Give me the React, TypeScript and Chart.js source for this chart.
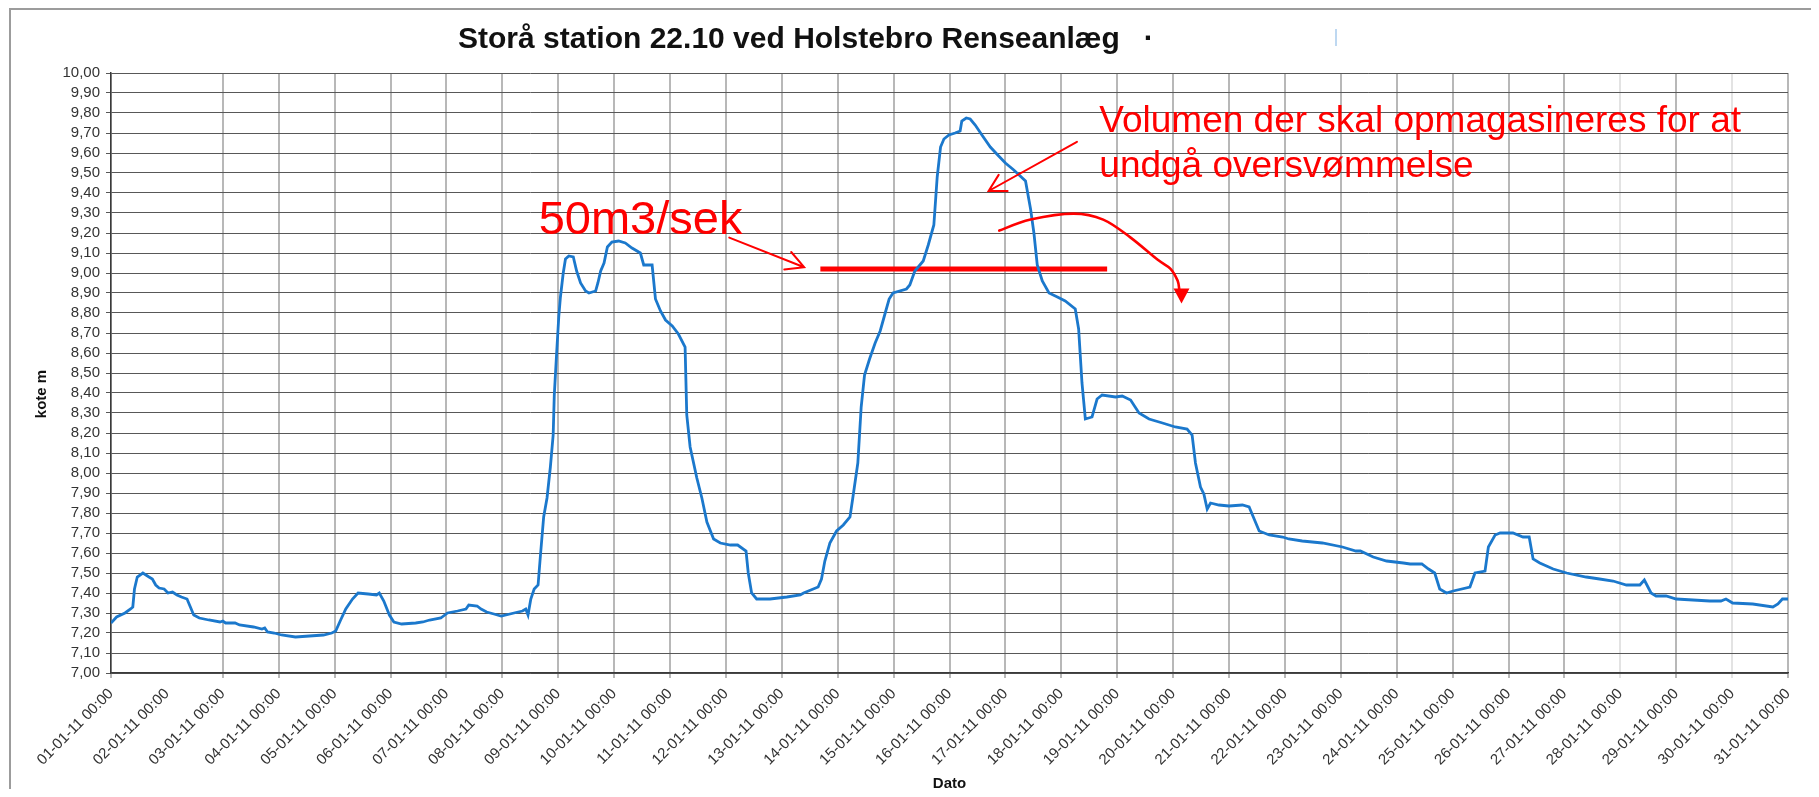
import React, { useEffect, useRef } from 'react';
import { Chart, registerables } from 'chart.js';

Chart.register(...registerables);

// ---------- data ----------
const dateLabels = [
  '01-01-11 00:00', '02-01-11 00:00', '03-01-11 00:00', '04-01-11 00:00', '05-01-11 00:00',
  '06-01-11 00:00', '07-01-11 00:00', '08-01-11 00:00', '09-01-11 00:00', '10-01-11 00:00',
  '11-01-11 00:00', '12-01-11 00:00', '13-01-11 00:00', '14-01-11 00:00', '15-01-11 00:00',
  '16-01-11 00:00', '17-01-11 00:00', '18-01-11 00:00', '19-01-11 00:00', '20-01-11 00:00',
  '21-01-11 00:00', '22-01-11 00:00', '23-01-11 00:00', '24-01-11 00:00', '25-01-11 00:00',
  '26-01-11 00:00', '27-01-11 00:00', '28-01-11 00:00', '29-01-11 00:00', '30-01-11 00:00',
  '31-01-11 00:00',
];

// time in days after 01-01-11 00:00
const obsDay = [
  0.00, 0.10, 0.25, 0.35, 0.39, 0.42, 0.47, 0.57, 0.68, 0.74, 0.80, 0.86, 0.95, 1.02, 1.10, 1.18,
  1.26, 1.36, 1.42, 1.48, 1.58, 1.75, 1.95, 2.00, 2.05, 2.22, 2.30, 2.55, 2.70, 2.75, 2.80, 2.92,
  3.05, 3.30, 3.55, 3.80, 3.95, 4.02, 4.10, 4.20, 4.32, 4.42, 4.60, 4.75, 4.80, 4.88, 4.98, 5.06,
  5.20, 5.45, 5.58, 5.70, 5.90, 6.02, 6.20, 6.35, 6.40, 6.55, 6.62, 6.72, 6.85, 6.98, 7.21, 7.36,
  7.42, 7.46, 7.51, 7.57, 7.64, 7.68, 7.74, 7.80, 7.86, 7.91, 7.93, 7.97, 8.01, 8.04, 8.09, 8.13,
  8.19, 8.27, 8.33, 8.40, 8.49, 8.55, 8.67, 8.71, 8.76, 8.82, 8.88, 8.96, 9.08, 9.20, 9.32, 9.47,
  9.53, 9.68, 9.74, 9.83, 9.92, 10.04, 10.15, 10.27, 10.30, 10.36, 10.48, 10.57, 10.66, 10.78,
  10.90, 11.08, 11.21, 11.36, 11.40, 11.46, 11.55, 11.79, 12.09, 12.33, 12.39, 12.65, 12.71,
  12.77, 12.86, 12.98, 13.10, 13.22, 13.27, 13.36, 13.42, 13.48, 13.57, 13.67, 13.76, 13.85,
  13.92, 13.99, 14.23, 14.29, 14.38, 14.53, 14.62, 14.72, 14.78, 14.84, 14.90, 14.99, 15.10,
  15.19, 15.22, 15.30, 15.37, 15.46, 15.58, 15.73, 15.88, 16.00, 16.15, 16.36, 16.45, 16.51,
  16.57, 16.66, 16.78, 16.93, 17.07, 17.25, 17.31, 17.37, 17.43, 17.55, 17.64, 17.73, 17.97,
  18.09, 18.24, 18.39, 18.57, 18.81, 19.04, 19.25, 19.34, 19.40, 19.49, 19.55, 19.61, 19.67,
  19.82, 20.00, 20.24, 20.36, 20.45, 20.54, 20.72, 20.96, 21.07, 21.31, 21.67, 22.03, 22.27,
  22.35, 22.58, 22.82, 23.12, 23.24, 23.45, 23.57, 23.68, 23.77, 23.89, 24.01, 24.31, 24.40,
  24.58, 24.64, 24.76, 24.85, 25.08, 25.26, 25.37, 25.44, 25.56, 25.80, 26.04, 26.39, 26.63,
  26.87, 27.11, 27.35, 27.43, 27.55, 27.64, 27.82, 28.00, 28.30, 28.60, 28.80, 28.89, 29.01,
  29.37, 29.73, 29.82, 29.90, 30.00,
];

// water level, kote m
const obsLevel = [
  7.25, 7.28, 7.30, 7.32, 7.33, 7.42, 7.48, 7.50, 7.48, 7.47, 7.44, 7.425, 7.42, 7.40, 7.405, 7.39,
  7.38, 7.37, 7.33, 7.29, 7.275, 7.265, 7.255, 7.26, 7.25, 7.25, 7.24, 7.23, 7.22, 7.225, 7.205, 7.20,
  7.19, 7.18, 7.185, 7.19, 7.20, 7.21, 7.26, 7.32, 7.37, 7.40, 7.395, 7.39, 7.40, 7.36, 7.29, 7.255,
  7.245, 7.25, 7.255, 7.265, 7.275, 7.30, 7.31, 7.32, 7.34, 7.335, 7.32, 7.305, 7.295, 7.285, 7.30, 7.31,
  7.32, 7.29, 7.37, 7.42, 7.44, 7.58, 7.78, 7.875, 8.03, 8.19, 8.39, 8.59, 8.78, 8.88, 9.00, 9.07,
  9.085, 9.08, 9.01, 8.95, 8.91, 8.90, 8.91, 8.95, 9.01, 9.05, 9.13, 9.155, 9.16, 9.15, 9.125, 9.10,
  9.04, 9.04, 8.87, 8.81, 8.765, 8.735, 8.695, 8.63, 8.29, 8.13, 7.975, 7.875, 7.755, 7.67,
  7.65, 7.64, 7.64, 7.61, 7.50, 7.40, 7.37, 7.37, 7.38, 7.39, 7.40, 7.43, 7.47,
  7.56, 7.65, 7.71, 7.74, 7.78, 7.875, 8.05, 8.33, 8.49, 8.57, 8.65, 8.71, 8.80,
  8.87, 8.90, 8.92, 8.94, 9.01, 9.06, 9.14, 9.24, 9.48, 9.63, 9.67, 9.69, 9.70,
  9.71, 9.76, 9.775, 9.77, 9.74, 9.69, 9.63, 9.585, 9.55, 9.515, 9.46, 9.32, 9.20,
  9.04, 8.96, 8.90, 8.88, 8.86, 8.82, 8.72, 8.45, 8.27, 8.28, 8.37, 8.39, 8.38,
  8.385, 8.365, 8.30, 8.27, 8.25, 8.23, 8.22, 8.19, 8.05, 7.93, 7.895, 7.82, 7.85,
  7.84, 7.835, 7.84, 7.83, 7.77, 7.71, 7.69, 7.68, 7.67, 7.66, 7.65, 7.63, 7.61,
  7.61, 7.58, 7.56, 7.55, 7.545, 7.545, 7.52, 7.50, 7.42, 7.40, 7.41, 7.43, 7.50,
  7.51, 7.63, 7.69, 7.70, 7.70, 7.68, 7.68, 7.57, 7.55, 7.52, 7.50, 7.48, 7.47,
  7.46, 7.44, 7.44, 7.465, 7.40, 7.385, 7.385, 7.37, 7.365, 7.36, 7.36, 7.37, 7.35,
  7.345, 7.33, 7.345, 7.37, 7.37,
];

// 50 m3/s threshold line
const thresholdDay = [12.69, 17.82];
const thresholdLevel = [9.02, 9.02];

const yMin = 7.0;
const yMax = 10.0;
const yStep = 0.1;

// ---------- texts ----------
const titleText = 'Storå station 22.10 ved Holstebro Renseanlæg';
const yAxisTitle = 'kote m';
const xAxisTitle = 'Dato';
const flowText = '50m3/sek';
const volumeText = ['Volumen der skal opmagasineres for at', 'undgå oversvømmelse'];

// annotation anchors in data units [day, level]
const flowTextAt = [7.65, 9.197];
const flowArrow = [[11.06, 9.177], [12.40, 9.029]];
const volumeTextAt = [17.68, 9.706];
const volumeLine2Level = 9.482;
const volumeArrow = [[17.28, 9.656], [15.70, 9.41]];
const curvedArrow = [
  [15.89, 9.212], [16.45, 9.267], [17.22, 9.297], [17.75, 9.267], [18.24, 9.177],
  [18.72, 9.067], [18.95, 9.022], [19.08, 8.962], [19.11, 8.917],
];
const curvedArrowTip = [19.15, 8.847];

const FONT = '"Liberation Sans", Arial, Helvetica, sans-serif';
const RED = '#ff0000';

function smoothPath(ctx: CanvasRenderingContext2D, pts: { x: number; y: number }[]) {
  ctx.moveTo(pts[0].x, pts[0].y);
  for (let i = 0; i < pts.length - 1; i++) {
    const p0 = pts[i - 1] || pts[i];
    const p1 = pts[i];
    const p2 = pts[i + 1];
    const p3 = pts[i + 2] || p2;
    ctx.bezierCurveTo(
      p1.x + (p2.x - p0.x) / 6, p1.y + (p2.y - p0.y) / 6,
      p2.x - (p3.x - p1.x) / 6, p2.y - (p3.y - p1.y) / 6,
      p2.x, p2.y
    );
  }
}

function openArrow(ctx: CanvasRenderingContext2D, from: { x: number; y: number }, tip: { x: number; y: number }, len: number, deg: number) {
  ctx.beginPath();
  ctx.moveTo(from.x, from.y);
  ctx.lineTo(tip.x, tip.y);
  const a = Math.atan2(from.y - tip.y, from.x - tip.x);
  const r = (deg * Math.PI) / 180;
  ctx.moveTo(tip.x + len * Math.cos(a + r), tip.y + len * Math.sin(a + r));
  ctx.lineTo(tip.x, tip.y);
  ctx.lineTo(tip.x + len * Math.cos(a - r), tip.y + len * Math.sin(a - r));
  ctx.stroke();
}

const decorPlugin = {
  id: 'decor',
  beforeDraw(chart: any) {
    const { ctx, width, height, chartArea } = chart;
    ctx.save();
    ctx.fillStyle = '#ffffff';
    ctx.fillRect(0, 0, width, height);
    // outer frame
    ctx.strokeStyle = '#9c9c9c';
    ctx.lineWidth = 2;
    ctx.beginPath();
    ctx.moveTo(2, height);
    ctx.lineTo(2, 1);
    ctx.lineTo(width, 1);
    ctx.stroke();
    // title
    ctx.fillStyle = '#111';
    ctx.font = `bold 30px ${FONT}`;
    ctx.textAlign = 'left';
    ctx.textBaseline = 'alphabetic';
    const titleLeft = chartArea.left + 347;
    ctx.fillText(titleText, titleLeft, 40);
    const tw = ctx.measureText(titleText).width;
    ctx.fillText('·', titleLeft + tw + 24, 40);
    // faint blue mark right of the title
    ctx.strokeStyle = '#a9cbec';
    ctx.lineWidth = 1.5;
    ctx.beginPath();
    ctx.moveTo(titleLeft + 878, 21);
    ctx.lineTo(titleLeft + 878, 38);
    ctx.stroke();
    // y-axis title
    ctx.fillStyle = '#111';
    ctx.font = `bold 15px ${FONT}`;
    ctx.translate(34, (chartArea.top + chartArea.bottom) / 2 + 21);
    ctx.rotate(-Math.PI / 2);
    ctx.textAlign = 'center';
    ctx.textBaseline = 'middle';
    ctx.fillText(yAxisTitle, 0, 0);
    ctx.restore();
  },
  afterDatasetsDraw(chart: any) {
    const { ctx } = chart;
    const xs = chart.scales.x;
    const ys = chart.scales.y;
    const P = (p: number[]) => ({ x: xs.getPixelForValue(p[0]), y: ys.getPixelForValue(p[1]) });
    ctx.save();
    ctx.fillStyle = RED;
    ctx.strokeStyle = RED;
    ctx.textAlign = 'left';
    ctx.textBaseline = 'alphabetic';

    ctx.font = `47px ${FONT}`;
    const ft = P(flowTextAt);
    ctx.fillText(flowText, ft.x, ft.y);

    ctx.font = `37px ${FONT}`;
    const vt = P(volumeTextAt);
    ctx.fillText(volumeText[0], vt.x, vt.y);
    ctx.fillText(volumeText[1], vt.x, ys.getPixelForValue(volumeLine2Level));

    ctx.lineWidth = 2;
    ctx.lineCap = 'round';
    openArrow(ctx, P(flowArrow[0]), P(flowArrow[1]), 20, 28);
    openArrow(ctx, P(volumeArrow[0]), P(volumeArrow[1]), 19, 29);

    ctx.lineWidth = 2.6;
    ctx.beginPath();
    smoothPath(ctx, curvedArrow.map(P));
    ctx.stroke();
    const tip = P(curvedArrowTip);
    ctx.beginPath();
    ctx.moveTo(tip.x, tip.y);
    ctx.lineTo(tip.x - 8, tip.y - 15);
    ctx.lineTo(tip.x + 8, tip.y - 15);
    ctx.closePath();
    ctx.fill();
    ctx.restore();
  },
};

export default function App() {
  const canvasRef = useRef<HTMLCanvasElement | null>(null);

  useEffect(() => {
    const canvas = canvasRef.current;
    if (!canvas) return;
    Chart.defaults.font.family = FONT;

    const chart = new Chart(canvas, {
      type: 'line',
      data: {
        datasets: [
          {
            label: 'Vandstand',
            data: obsDay.map((d, i) => ({ x: d, y: obsLevel[i] })),
            borderColor: '#1b78cc',
            backgroundColor: '#1b78cc',
            borderWidth: 2.8,
            pointRadius: 0,
            tension: 0,
            fill: false,
            order: 1,
          },
          {
            label: '50m3/sek',
            data: thresholdDay.map((d, i) => ({ x: d, y: thresholdLevel[i] })),
            borderColor: RED,
            backgroundColor: RED,
            borderWidth: 5,
            pointRadius: 0,
            fill: false,
            order: 2,
          },
        ],
      },
      options: {
        animation: false,
        responsive: false,
        layout: { padding: { left: 0, right: 23, top: 65, bottom: 0 } },
        plugins: {
          legend: { display: false },
          tooltip: { enabled: false },
          title: { display: false },
        },
        scales: {
          x: {
            type: 'linear',
            min: 0,
            max: dateLabels.length - 1,
            ticks: {
              stepSize: 1,
              autoSkip: false,
              minRotation: 45,
              maxRotation: 45,
              padding: 7,
              color: '#333',
              font: { size: 15 },
              callback: (v: any) => dateLabels[Math.round(Number(v))] ?? '',
            },
            grid: {
              color: (c: any) => {
                const v = c.tick ? Math.round(c.tick.value) : -1;
                if (v === 1) return 'rgba(0,0,0,0)';
                if (v === 27 || v === 29) return '#e3e3e3';
                return '#b8b8b8';
              },
              lineWidth: 2,
              tickLength: 5,
            },
            border: { color: '#3a3a3a', width: 1.5 },
            title: {
              display: true,
              text: xAxisTitle,
              color: '#111',
              font: { size: 15, weight: 'bold', lineHeight: 0.75 },
              padding: { top: 0, bottom: 0 },
            },
            afterFit: (s: any) => {
              s.height = 116;
            },
          },
          y: {
            type: 'linear',
            min: yMin,
            max: yMax,
            ticks: {
              stepSize: yStep,
              autoSkip: false,
              padding: 6,
              color: '#333',
              font: { size: 15 },
              callback: (v: any) => Number(v).toFixed(2).replace('.', ','),
            },
            grid: { color: '#585858', lineWidth: 1, tickLength: 5 },
            border: { color: '#3a3a3a', width: 1.5 },
            afterFit: (s: any) => {
              s.width = 103;
            },
          },
        },
      } as any,
      plugins: [decorPlugin],
    });

    return () => chart.destroy();
  }, []);

  return (
    <div style={{ width: 1803, height: 781, position: 'relative' }}>
      <canvas ref={canvasRef} width={1803} height={781} style={{ display: 'block' }} />
    </div>
  );
}
